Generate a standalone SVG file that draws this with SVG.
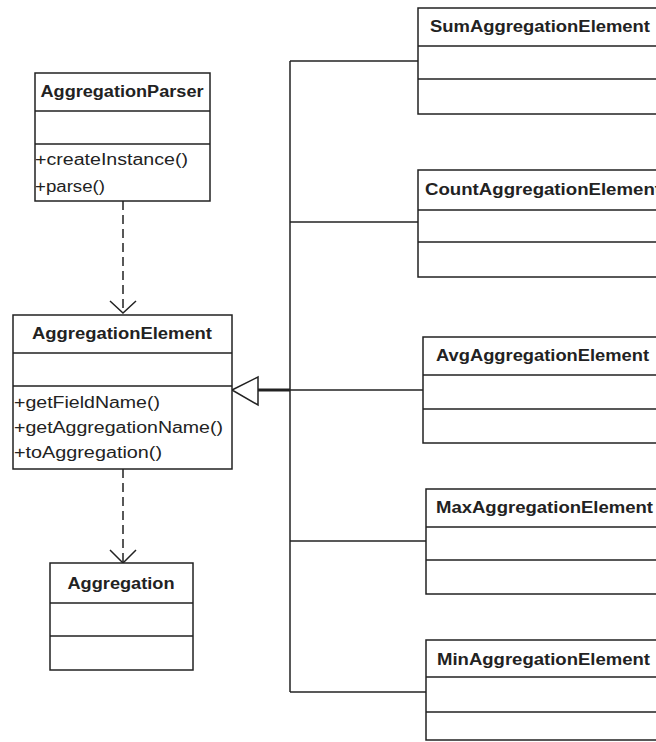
<svg xmlns="http://www.w3.org/2000/svg" width="656" height="742" viewBox="0 0 656 742">
<style>
.box{fill:#fff;stroke:#222;stroke-width:1.5}
.ln{stroke:#222;stroke-width:1.5;fill:none}
.dash{stroke:#222;stroke-width:1.5;fill:none;stroke-dasharray:9 5}
.h{font-family:"Liberation Sans",Arial,sans-serif;font-size:16px;font-weight:bold;fill:#222}
.m{font-family:"Liberation Sans",Arial,sans-serif;font-size:16px;fill:#222}
</style>
<rect width="656" height="742" fill="#fff"/>
<g id="connectors">
<path class="dash" d="M123,201 V312"/>
<path class="ln" d="M110,301 L123,313 L136,301"/>
<path class="dash" d="M123,469 V562"/>
<path class="ln" d="M110,550 L123,563 L136,550"/>
<path class="ln" d="M290,61 V692"/>
<path class="ln" d="M290,61 H418"/>
<path class="ln" d="M290,222 H418"/>
<path class="ln" d="M290,390 H423"/>
<path class="ln" d="M290,541 H426"/>
<path class="ln" d="M290,692 H426"/>
<path d="M258,390 H290" stroke="#222" stroke-width="3"/>
<polygon points="232,390 258,377 258,405" fill="#fff" stroke="#222" stroke-width="1.5"/>
</g>
<g id="AggregationParser">
<rect class="box" x="35" y="73" width="175" height="128"/>
<path class="ln" d="M35,111 H210 M35,144 H210"/>
<text class="h" x="122" y="97" text-anchor="middle" textLength="163" lengthAdjust="spacingAndGlyphs">AggregationParser</text>
<text class="m" x="35" y="165" textLength="153" lengthAdjust="spacingAndGlyphs">+createInstance()</text>
<text class="m" x="35" y="192" textLength="70" lengthAdjust="spacingAndGlyphs">+parse()</text>
</g>
<g id="AggregationElement">
<rect class="box" x="13" y="315" width="219" height="154"/>
<path class="ln" d="M13,353 H232 M13,386 H232"/>
<text class="h" x="122" y="339" text-anchor="middle" textLength="180" lengthAdjust="spacingAndGlyphs">AggregationElement</text>
<text class="m" x="14" y="408" textLength="146" lengthAdjust="spacingAndGlyphs">+getFieldName()</text>
<text class="m" x="14" y="433" textLength="209" lengthAdjust="spacingAndGlyphs">+getAggregationName()</text>
<text class="m" x="14" y="458" textLength="148" lengthAdjust="spacingAndGlyphs">+toAggregation()</text>
</g>
<g id="Aggregation">
<rect class="box" x="50" y="563" width="143" height="107"/>
<path class="ln" d="M50,603 H193 M50,636 H193"/>
<text class="h" x="121" y="589" text-anchor="middle" textLength="107" lengthAdjust="spacingAndGlyphs">Aggregation</text>
</g>
<g id="SumAggregationElement">
<rect class="box" x="418" y="8" width="260" height="106"/>
<path class="ln" d="M418,46 H678 M418,79 H678"/>
<text class="h" x="430" y="32" textLength="220" lengthAdjust="spacingAndGlyphs">SumAggregationElement</text>
</g>
<g id="CountAggregationElement">
<rect class="box" x="418" y="170" width="260" height="107"/>
<path class="ln" d="M418,210 H678 M418,242 H678"/>
<text class="h" x="425" y="195" textLength="236" lengthAdjust="spacingAndGlyphs">CountAggregationElement</text>
</g>
<g id="AvgAggregationElement">
<rect class="box" x="423" y="337" width="260" height="106"/>
<path class="ln" d="M423,375 H683 M423,409 H683"/>
<text class="h" x="436" y="361" textLength="213" lengthAdjust="spacingAndGlyphs">AvgAggregationElement</text>
</g>
<g id="MaxAggregationElement">
<rect class="box" x="426" y="489" width="260" height="105"/>
<path class="ln" d="M426,527 H686 M426,560 H686"/>
<text class="h" x="436" y="513" textLength="217" lengthAdjust="spacingAndGlyphs">MaxAggregationElement</text>
</g>
<g id="MinAggregationElement">
<rect class="box" x="426" y="640" width="260" height="100"/>
<path class="ln" d="M426,677 H686 M426,712 H686"/>
<text class="h" x="437" y="665" textLength="213" lengthAdjust="spacingAndGlyphs">MinAggregationElement</text>
</g>
</svg>
